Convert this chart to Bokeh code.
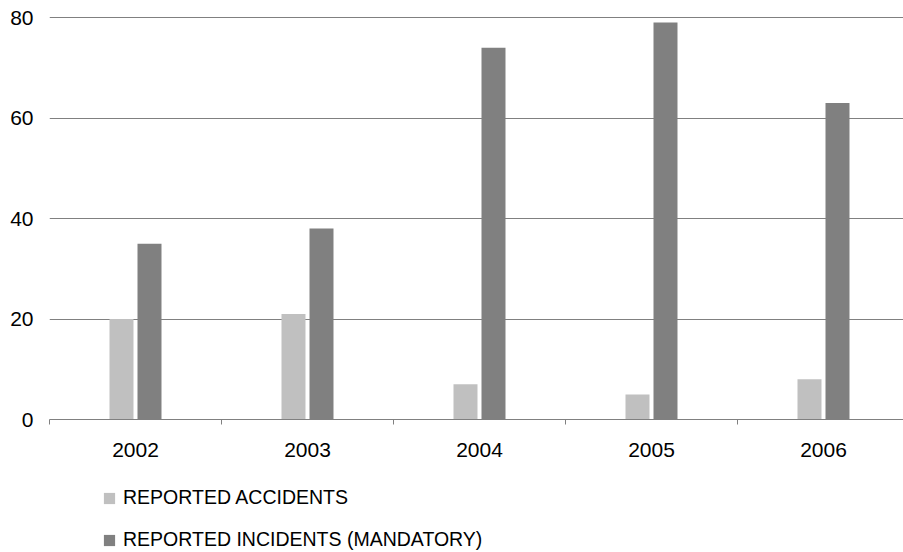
from bokeh.plotting import figure
from bokeh.layouts import column
from bokeh.models import Range1d, FixedTicker, Legend, LegendItem, ColumnDataSource
from bokeh.transform import dodge
from bokeh.embed import file_html
from bokeh.resources import INLINE

years = ["2002", "2003", "2004", "2005", "2006"]
accidents = [20, 21, 7, 5, 8]
incidents = [35, 38, 74, 79, 63]
y_ticks = [0, 20, 40, 60, 80]
series_names = ["REPORTED ACCIDENTS", "REPORTED INCIDENTS (MANDATORY)"]
colors = ["#C0C0C0", "#808080"]

xs = [i + 0.5 for i in range(len(years))]
src = ColumnDataSource(dict(x=xs, acc=accidents, inc=incidents))

FONT = "Liberation Sans"

p = figure(width=903, height=470, output_backend="svg", toolbar_location=None,
           x_range=Range1d(0, 854 / 172), y_range=Range1d(0, 81),
           min_border_left=49, min_border_right=0, min_border_top=12, min_border_bottom=51)
p.outline_line_color = None
p.background_fill_color = "white"
p.border_fill_color = "white"

bw = 0.1395
off = 0.0814
r1 = p.vbar(x=dodge("x", -off), top="acc", width=bw, source=src, fill_color=colors[0], line_color=None)
r2 = p.vbar(x=dodge("x", off), top="inc", width=bw, source=src, fill_color=colors[1], line_color=None)

# x axis
p.xaxis.ticker = FixedTicker(ticks=xs, minor_ticks=list(range(len(years) + 1)))
p.xaxis.major_label_overrides = {x: y for x, y in zip(xs, years)}
p.xaxis.major_tick_out = 0
p.xaxis.major_tick_in = 0
p.xaxis.minor_tick_out = 5
p.xaxis.minor_tick_in = 0
p.xaxis.minor_tick_line_color = "#808080"
p.xaxis.axis_line_color = "#808080"
p.xaxis.major_label_standoff = 18
p.xaxis.major_label_text_font = FONT
p.xaxis.major_label_text_font_size = "21px"
p.xaxis.major_label_text_color = "black"

# y axis
p.yaxis.ticker = FixedTicker(ticks=y_ticks)
p.yaxis.axis_line_color = None
p.yaxis.major_tick_out = 0
p.yaxis.major_tick_in = 0
p.yaxis.minor_tick_line_color = None
p.yaxis.major_label_standoff = 16
p.yaxis.major_label_text_font = FONT
p.yaxis.major_label_text_font_size = "21px"
p.yaxis.major_label_text_color = "black"

p.xgrid.grid_line_color = None
p.ygrid.grid_line_color = "#808080"
p.ygrid.grid_line_width = 1

# legend strip below the chart (zero-height key glyphs only carry the colours)
lg = figure(width=903, height=82, output_backend="svg", toolbar_location=None,
            x_range=Range1d(0, 1), y_range=Range1d(0, 1),
            x_axis_location=None, y_axis_location=None,
            min_border_left=49, min_border_right=0, min_border_top=0, min_border_bottom=0)
lg.outline_line_color = None
lg.grid.grid_line_color = None
lg.border_fill_color = "white"
k1 = lg.vbar(x=[0], top=[0], width=0.0, fill_color=colors[0], line_color=None)
k2 = lg.vbar(x=[0], top=[0], width=0.0, fill_color=colors[1], line_color=None)

legend = Legend(items=[LegendItem(label=series_names[0], renderers=[k1]),
                       LegendItem(label=series_names[1], renderers=[k2])],
                location=(53, 1), orientation="vertical",
                glyph_width=14, glyph_height=14, label_standoff=7, spacing=19,
                padding=0, margin=0, border_line_color=None, background_fill_alpha=0,
                label_text_font=FONT, label_text_font_size="19.5px", label_text_color="black")
lg.add_layout(legend, "center")

open("out.html", "w").write(file_html(column(p, lg, spacing=0), INLINE))
